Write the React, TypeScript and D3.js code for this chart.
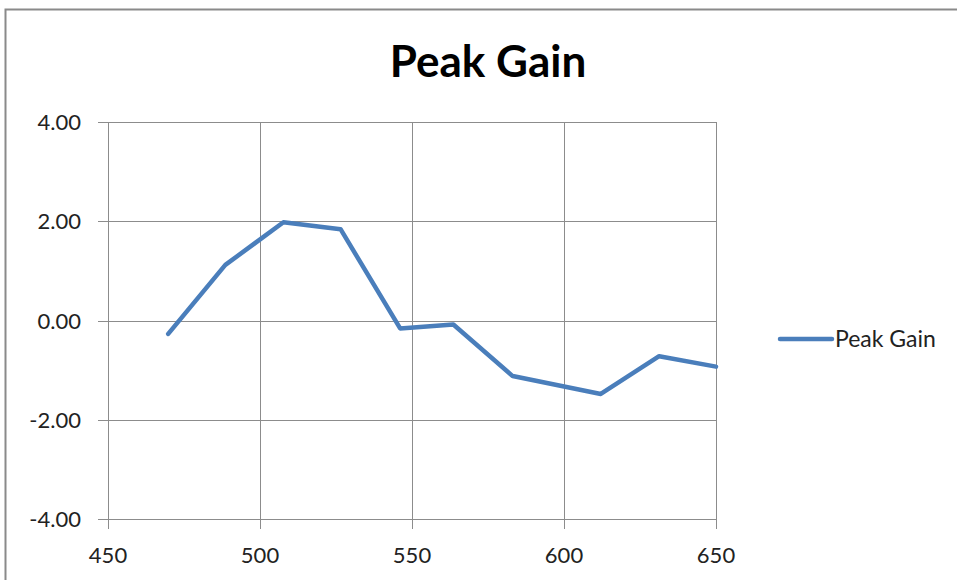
import React from "react";
import * as d3 from "d3";

const xValues = [469.8, 488.6, 507.7, 526.5, 546.1, 563.6, 583.1, 612.1, 631.3, 650];
const yValues = [-0.27, 1.12, 1.98, 1.84, -0.16, -0.08, -1.12, -1.48, -0.72, -0.93];
const xTicks = [450, 500, 550, 600, 650];
const yTicks = [-4, -2, 0, 2, 4];
const seriesName = "Peak Gain";
const title = "Peak Gain";

const W = 957;
const H = 580;
const FONT = "Lato, 'Noto Sans', sans-serif";

export default function App() {
  const x = d3.scaleLinear().domain([450, 650]).range([108, 716]);
  const y = d3.scaleLinear().domain([-4, 4]).range([519, 122]);
  const pts = xValues.map((v, i) => [v, yValues[i]] as [number, number]);
  const line = d3
    .line<[number, number]>()
    .x((d) => x(d[0]))
    .y((d) => y(d[1]));
  const grid = "#8c8c8c";
  const fmt = (t: number) => d3.format(".2f")(t).replace("\u2212", "-");
  return (
    <svg
      width={W}
      height={H}
      style={{ position: "absolute", left: 0, top: 0, background: "#fff" }}
    >
      <rect x={5.5} y={9.5} width={W + 10} height={H + 10} fill="#fff" stroke="#8a8a8a" strokeWidth={2} />
      <text
        x={488}
        y={77}
        textAnchor="middle"
        fontFamily={FONT}
        fontWeight="bold"
        fontSize={44}
        fill="#000"
      >
        {title}
      </text>
      {yTicks.map((t) => (
        <g key={"y" + t}>
          <line x1={98} x2={716} y1={Math.round(y(t)) + 0.5} y2={Math.round(y(t)) + 0.5} stroke={grid} strokeWidth={1} />
          <text
            x={81}
            y={y(t) + 8}
            textAnchor="end"
            fontFamily={FONT}
            fontSize={22}
            fill="#222"
          >
            {fmt(t)}
          </text>
        </g>
      ))}
      {xTicks.map((t) => (
        <g key={"x" + t}>
          <line x1={Math.round(x(t)) + 0.5} x2={Math.round(x(t)) + 0.5} y1={122} y2={529} stroke={grid} strokeWidth={1} />
          <text
            x={x(t)}
            y={563}
            textAnchor="middle"
            fontFamily={FONT}
            fontSize={22}
            fill="#222"
          >
            {t}
          </text>
        </g>
      ))}
      <path
        d={line(pts) || ""}
        fill="none"
        stroke="#4a7ebb"
        strokeWidth={4.5}
        strokeLinejoin="round"
        strokeLinecap="round"
      />
      <line x1={780} x2={832} y1={339} y2={339} stroke="#4a7ebb" strokeWidth={4.5} strokeLinecap="round" />
      <text x={835} y={347} fontFamily={FONT} fontSize={23} fill="#222">
        {seriesName}
      </text>
    </svg>
  );
}
